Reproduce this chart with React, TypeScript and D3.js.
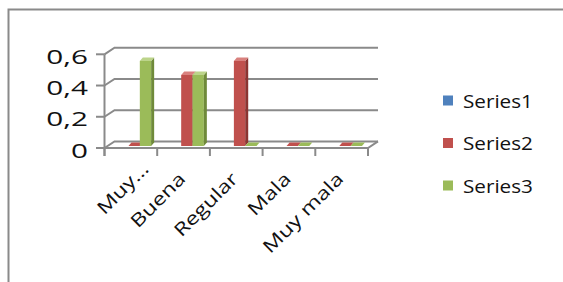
import React from 'react';
import * as d3 from 'd3';

// values (Series1 has no data, nothing is drawn for it)
const categories = ['Muy…', 'Buena', 'Regular', 'Mala', 'Muy mala'];
const series1: (number | null)[] = [null, null, null, null, null];
const series2: (number | null)[] = [0, 0.455, 0.545, 0, 0];
const series3: (number | null)[] = [0.545, 0.455, 0, 0, 0];
const seriesNames = ['Series1', 'Series2', 'Series3'];
const yTicks = [0, 0.2, 0.4, 0.6];
const yTickLabels = ['0', '0,2', '0,4', '0,6'];

const W = 563;
const H = 282;
const FONT = '"Open Sans", "DejaVu Sans", sans-serif';
const GRID = '#8a8a8a';

// front, side and top shades per series
const shades = [
  { front: '#4F81BD', side: '#385D8A', top: '#7A9FD0' },
  { front: '#C0504D', side: '#8C3431', top: '#D9817E' },
  { front: '#9BBB59', side: '#6F8A3A', top: '#BCD48A' },
];

const App = () => {
  const allSeries = [series1, series2, series3];

  const x = d3.scaleBand<string>()
    .domain(categories)
    .range([104.5, 368])
    .paddingInner(0)
    .paddingOuter(0);

  const y = d3.scaleLinear().domain([0, 0.6]).range([148, 54.3]);

  // depth of the back wall and of the bars
  const wallDx = 10;
  const wallDy = -6.6;
  const barShiftX = 3.3;
  const barShiftY = -2;
  const sideDx = 3;
  const sideDy = -3.5;

  const bw = x.bandwidth();
  const barW = bw / 4.65;
  const groupOffset = (bw - barW * 3) / 2 + barShiftX;

  const [x0, x1] = x.range();
  const tickXs = [...categories.map(c => x(c) as number), x1];

  const bars: JSX.Element[] = [];
  categories.forEach((c, ci) => {
    allSeries.forEach((s, si) => {
      const v = s[ci];
      if (v === null || v === undefined) return;
      const bx = (x(c) as number) + groupOffset + si * barW;
      const bottom = y(0) + barShiftY;
      const top = y(v) + barShiftY;
      const sh = shades[si];
      const key = `${ci}-${si}`;
      bars.push(
        <g key={key}>
          {v > 0 && (
            <rect x={bx} y={top} width={barW} height={bottom - top} fill={sh.front} />
          )}
          {v > 0 && (
            <polygon
              points={`${bx + barW},${top} ${bx + barW + sideDx},${top + sideDy} ${bx + barW + sideDx},${bottom + sideDy} ${bx + barW},${bottom}`}
              fill={sh.side}
            />
          )}
          <polygon
            points={`${bx},${top} ${bx + barW},${top} ${bx + barW + sideDx},${top + sideDy} ${bx + sideDx},${top + sideDy}`}
            fill={v > 0 ? sh.top : sh.front}
          />
        </g>
      );
    });
  });

  return (
    <svg
      width={W}
      height={H}
      style={{ position: 'absolute', left: 0, top: 0, background: '#fff' }}
    >
      {/* chart frame, cut off on the right and bottom */}
      <rect x={8.5} y={9.5} width={700} height={400} fill="none" stroke={GRID} strokeWidth={2} />

      {/* back wall gridlines */}
      {yTicks.map(t => (
        <polyline
          key={`g${t}`}
          points={`${x0},${y(t)} ${x0 + wallDx},${y(t) + wallDy} ${x1 + wallDx},${y(t) + wallDy}`}
          fill="none"
          stroke={GRID}
          strokeWidth={2}
        />
      ))}

      {/* floor */}
      <polyline
        points={`${x0},${y(0)} ${x1},${y(0)} ${x1 + wallDx},${y(0) + wallDy}`}
        fill="none"
        stroke={GRID}
        strokeWidth={2}
      />

      {/* y axis */}
      <line x1={x0} x2={x0} y1={y(0.6)} y2={156} stroke={GRID} strokeWidth={2} />
      {yTicks.map((t, i) => (
        <g key={`yt${t}`}>
          <line x1={96} x2={x0} y1={y(t)} y2={y(t)} stroke={GRID} strokeWidth={2} />
          <text
            transform={`translate(88,${y(t) + 9.5}) scale(1.45,1)`}
            textAnchor="end"
            fontFamily={FONT}
            fontSize={20.5}
            fill="#111"
          >
            {yTickLabels[i]}
          </text>
        </g>
      ))}

      {/* x axis ticks */}
      {tickXs.map((tx, i) => (
        <line key={`xt${i}`} x1={tx} x2={tx} y1={y(0)} y2={156} stroke={GRID} strokeWidth={2} />
      ))}

      {bars}

      {/* category labels */}
      {categories.map(c => {
        const cx = (x(c) as number) + bw / 2;
        const truncated = c.endsWith('…');
        const ax = cx + (truncated ? 19 : 3);
        const ay = truncated ? 170 : 180;
        return (
          <text
            key={`l${c}`}
            transform={`translate(${ax},${ay}) rotate(-45) scale(1.28,1)`}
            textAnchor="end"
            fontFamily={FONT}
            fontSize={18}
            fill="#111"
          >
            {c}
          </text>
        );
      })}

      {/* legend */}
      {seriesNames.map((name, i) => {
        const ly = 95.5 + i * 42.5;
        return (
          <g key={name}>
            <rect x={443} y={ly} width={10} height={10} fill={shades[i].front} />
            <text
              transform={`translate(463,${ly + 12}) scale(1.15,1)`}
              fontFamily={FONT}
              fontSize={18}
              fill="#111"
            >
              {name}
            </text>
          </g>
        );
      })}
    </svg>
  );
};

export default App;
